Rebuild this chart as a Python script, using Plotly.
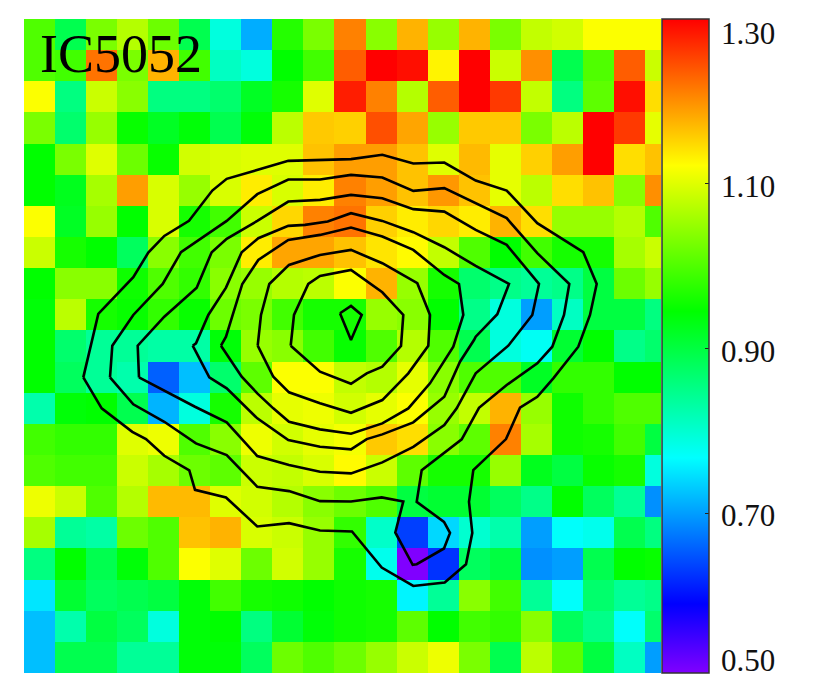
import plotly.graph_objects as go

# Ratio map values, row by row from the top of the picture
row00 = [1.00,.89,1.03,1.07,1.02,.89,.79,.71,.97,1.03,1.21,1.04,1.175,1.05,1.175,1.03,1.08,1.09,1.12,1.12,1.12]
row01 = [1.00,.99,1.22,1.03,1.175,.99,.81,.79,.945,.99,1.235,1.30,1.29,1.13,1.30,1.085,1.20,.89,1.00,1.235,1.085]
row02 = [1.12,.856,1.085,1.04,.856,.856,.87,.92,.96,1.10,1.28,1.21,1.07,1.235,1.30,1.26,1.08,.856,1.01,1.29,1.145]
row03 = [1.03,.87,1.05,.95,.92,.94,.89,.94,1.075,1.16,1.155,1.245,1.185,1.05,1.16,1.16,1.03,1.075,1.30,1.26,1.105]
row04 = [.945,1.03,1.10,1.02,.95,1.09,1.095,1.10,1.10,1.165,1.19,1.19,1.165,1.10,1.17,1.105,1.155,1.19,1.30,1.145,1.165]
row05 = [.945,.925,1.06,1.19,1.095,1.05,1.095,1.135,1.095,1.135,1.21,1.19,1.165,1.195,1.165,1.105,1.075,1.145,1.165,1.04,1.20]
row06 = [1.12,.92,1.05,.945,1.095,.96,.99,1.085,1.15,1.21,1.22,1.155,1.135,1.15,1.135,1.175,1.145,1.05,1.05,1.07,1.00]
row07 = [1.085,.96,.945,.88,1.04,.99,1.03,1.135,1.185,1.185,1.165,1.14,1.125,1.08,1.00,.945,.99,.96,.96,1.06,1.085]
row08 = [.945,1.04,1.04,.955,1.00,.98,1.04,1.05,1.07,1.075,1.12,1.175,1.05,.96,.87,.85,.84,.85,.90,1.02,1.05]
row09 = [.94,1.075,.96,.95,.98,.95,1.02,1.03,.99,.96,.96,1.05,1.04,.945,.85,.79,.70,.81,.90,.90,.856]
row10 = [.945,.87,.84,.84,.83,.83,.94,1.05,1.04,.99,.95,1.00,1.07,1.00,.89,.79,.775,.91,.945,.85,.87]
row11 = [.945,.88,.84,.825,.657,.723,.87,1.01,1.12,1.12,1.08,1.07,1.105,1.04,1.00,1.00,.92,.98,.98,.945,.945]
row12 = [.825,.94,.945,.89,.715,.79,.96,1.075,1.105,1.11,1.09,1.105,1.12,1.05,1.08,1.175,1.05,.955,.98,1.00,1.00]
row13 = [.99,.98,.98,1.10,1.11,1.00,1.04,1.11,1.09,1.105,1.115,1.16,1.145,1.04,1.01,1.21,1.06,.955,.96,.99,.90]
row14 = [1.00,.99,.99,1.085,1.06,1.02,1.01,1.085,1.08,1.095,1.125,1.085,1.01,.96,.96,1.05,.925,.90,.95,.96,.79]
row15 = [1.11,1.085,1.00,1.07,1.17,1.17,1.10,1.09,1.07,1.04,1.02,1.00,.90,.91,.91,.88,.85,.945,.88,.84,.69]
row16 = [1.06,.84,.83,1.02,1.00,1.165,1.175,1.095,1.085,1.05,.98,.805,.634,.74,.80,.825,.70,.77,.78,.89,.856]
row17 = [.856,.945,.89,.94,1.00,1.12,1.10,1.02,1.09,1.05,.96,.78,.506,.625,.88,.90,.69,.70,.89,.945,.95]
row18 = [.75,.91,.88,.89,.90,.94,.99,.96,.955,.945,.955,.96,.76,.84,1.04,.99,.84,.77,.87,.84,.85]
row19 = [.723,.825,.90,.88,.79,.94,.945,.856,.91,.94,.955,.96,1.01,.945,.99,.98,1.04,.88,.85,.77,.87]
row20 = [.723,.89,.89,.84,.84,.94,.94,.88,1.02,1.00,1.02,1.05,1.085,1.11,1.03,.89,1.075,1.01,.90,.81,.70]
ratio_map = [row00,row01,row02,row03,row04,row05,row06,row07,row08,row09,row10,
             row11,row12,row13,row14,row15,row16,row17,row18,row19,row20]

# Contour outlines in map units
c1_x = [83.3,98.3,133.3,148.3,164.3,189,212.3,226.7,288.3,351,382.3,413.3,444.3,475.7,506.7,537.3,583.3,596.7,590,578.3,553.3,537.3,520,506,473.3,469,472.3,466,444.7,413.3,381.7,352,320,289,257.3,226,195,189.3,164.3,146,132.3,101.7,83.3]
c1_y = [377.3,314,277.3,252.7,236,221,190.7,179,161,159.3,155,163.7,162.7,180.7,190.7,223.3,252.3,284,315,346.7,378.3,396.7,407.7,439,470,501.7,532.7,564,582.3,585.7,567.3,531.3,530.3,523,526.3,497.3,489.7,470.3,455.7,439,431.7,408.3,377.3]
c2_x = [110,112.3,133.3,162.7,181,226.7,257.3,288.3,320,351,382.3,413.3,444.3,475.7,506.7,537.3,569.3,564,552.3,537.3,506.7,479,461.7,421.7,416.7,444,450,444,416.7,412.7,395.3,403.3,381.7,351,320,289,257.3,226.7,196,164.3,133.3,110]
c2_y = [377.3,345.7,315,284,252.3,221,194.3,179.7,179.7,175,177.7,191,188.3,203.3,218.3,253.3,284,315,346.7,363.3,385,407.7,439.3,470,501.7,521.7,532.7,548.3,564,564.7,532.3,501.3,497.3,501.3,501,491,486.7,455,443.3,421.7,404.3,377.3]
c3_x = [139,137.7,164.3,196.7,211.7,226.7,257.3,288.3,320,351,382.3,413.3,444.3,475.7,506.7,539,532.3,508.3,475.7,456.7,444.3,413.3,382.3,351,320,289,257.3,226.7,195,139]
c3_y = [377.3,345.7,316.7,287.7,252.3,239,221,201.7,200,195,198.3,209.3,211.7,230,245,284,315,345.7,373.3,408.3,425,446.7,462.3,473.3,471.7,465,456,422.3,406.7,377.3]
c4_x = [192.7,196,208.3,226,241.7,258.3,288.3,305,327.7,351,382.3,413.3,444.3,475.7,509,497.3,475.7,474,460,444.3,413.3,382.3,366.7,351,320,288.3,257.3,226.7,209.3,192.7]
c4_y = [345.7,343.3,315,287.7,252.3,238.3,226,225,221.7,213.3,221,232.3,247.3,266,284,314.3,336.7,340,361.7,396.7,422.3,434.3,439,449.3,446.7,440,418.3,388.3,377.3,345.7]
c5_x = [221,226,232.7,242.3,258.3,288.3,320,351,382.3,413.3,444.3,459,463.3,453.3,430,408.3,382.3,351,320,289,273.3,257.3,241.7,221]
c5_y = [345.7,336.7,315,284,260,240,235,227.7,236.7,250,275,284,315,346.7,383.3,408.3,423.3,433.7,429.3,421.7,408.3,393.3,376.7,345.7]
c6_x = [257.7,261,269.3,289,320,351,382.3,417.3,430,428.3,408.3,382.3,351,320,289,273.3,257.7]
c6_y = [345.7,315,284,265,255,250,263.3,283.3,315,345.7,373.3,400,412.7,403.3,392.3,376.7,345.7]
c7_x = [290.7,294,308.3,320,351,382.3,403.3,401,382.3,366.7,351,320,290.7]
c7_y = [345.7,315,284,276,270,292.3,315,346,366.7,373.3,383.7,371.7,345.7]
c8_x = [340,351,361.7,351,340]
c8_y = [313.3,306,315,340,313.3]
contours = [(c1_x,c1_y),(c2_x,c2_y),(c3_x,c3_y),(c4_x,c4_y),(c5_x,c5_y),(c6_x,c6_y),(c7_x,c7_y),(c8_x,c8_y)]

# Colour bar
z_low = 0.506
z_high = 1.30
bar_ticks = [0.70, 0.90, 1.10]
bar_labels = ["1.30", "1.10", "0.90", "0.70", "0.50"]
bar_label_y = [33.5, 187, 351, 515, 660]   # map units, label centres
title_text = "IC5052"

W, H = 830, 692
L, R, T, B = 24, 661, 19.3, 672.7

colors = [[0.0,"#8000ff"],[0.1057,"#0000ff"],[0.329,"#00ffff"],[0.553,"#00ff00"],[0.776,"#ffff00"],[1.0,"#ff0000"]]


def paper_x(px):
    return (px - L) / (R - L)


fig = go.Figure()
fig.add_trace(go.Heatmap(
    z=ratio_map, x0=L+31.03/2, dx=31.03, y0=T+31.115/2, dy=31.115,
    zmin=z_low, zmax=z_high, colorscale=colors, zsmooth=False, hoverinfo="skip",
    colorbar=dict(x=paper_x(662), xanchor="left", xpad=0, y=0.5, yanchor="middle", len=1, lenmode="fraction",
                  ypad=0, thickness=47, thicknessmode="pixels", outlinecolor="#333333", outlinewidth=1.5,
                  tickvals=bar_ticks, ticks="inside", ticklen=4, tickwidth=1, tickcolor="#222222",
                  showticklabels=False),
))
for cx, cy in contours:
    fig.add_trace(go.Scatter(x=cx, y=cy, mode="lines", line=dict(color="black", width=2.6),
                             showlegend=False, hoverinfo="skip"))

annos = [dict(text=title_text, x=38, y=54, xref="x", yref="y", xanchor="left", yanchor="middle",
              showarrow=False, font=dict(family="Liberation Serif", size=54, color="black"))]
for lab, ly in zip(bar_labels, bar_label_y):
    annos.append(dict(text=lab, x=paper_x(719), y=ly, xref="paper", yref="y", xanchor="left", yanchor="middle",
                      showarrow=False, font=dict(family="Liberation Serif", size=31, color="#111111")))

shapes = []
for t in bar_ticks:
    f = (t - z_low) / (z_high - z_low)
    py = (B - f * (B - T))
    shapes.append(dict(type="line", xref="paper", yref="y", x0=paper_x(662), x1=paper_x(666), y0=py, y1=py,
                       line=dict(color="#222222", width=1)))

fig.update_layout(
    width=W, height=H, autosize=False,
    margin=dict(l=L, r=W-R, t=T, b=H-B, pad=0),
    paper_bgcolor="white", plot_bgcolor="white",
    xaxis=dict(range=[L, R], visible=False, showgrid=False, zeroline=False),
    yaxis=dict(range=[B, T], visible=False, showgrid=False, zeroline=False),
    annotations=annos, shapes=shapes, showlegend=False,
)
fig.write_html("out.html", config=dict(displayModeBar=False),
               post_script="document.body.style.margin='0';document.body.style.overflow='hidden';")
